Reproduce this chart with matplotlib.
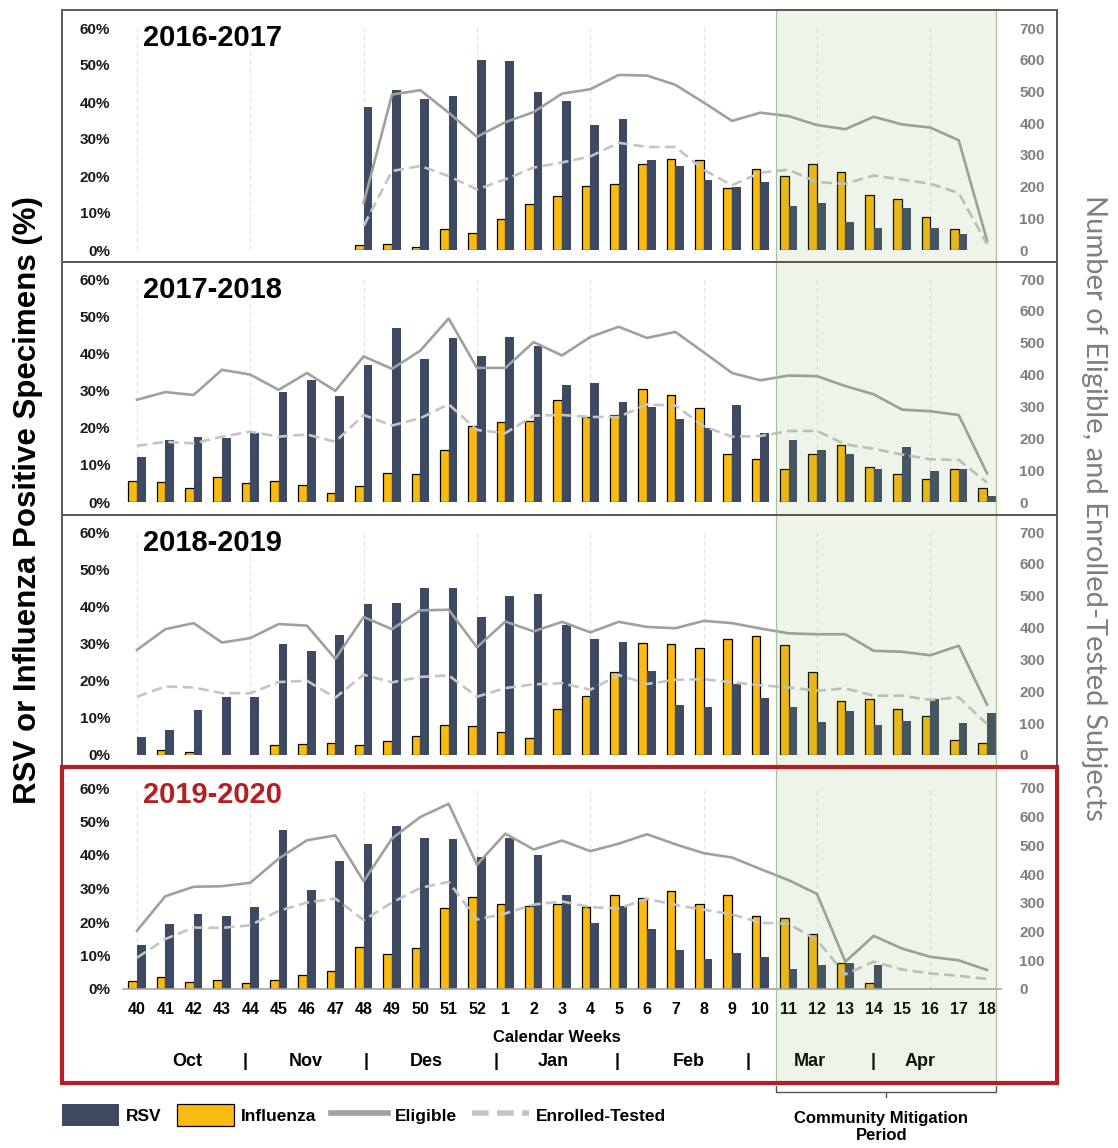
import numpy as np
import matplotlib as mpl
mpl.use('Agg')
import matplotlib.pyplot as plt
from matplotlib.patches import Rectangle, Patch
from matplotlib.lines import Line2D
from matplotlib.transforms import blended_transform_factory

plt.rcParams['font.family'] = ['Liberation Sans', 'DejaVu Sans']

nan = np.nan

# calendar weeks of a season, week 40 through week 18
weeks = list(range(40, 53)) + list(range(1, 19))
months = ['Oct', 'Nov', 'Des', 'Jan', 'Feb', 'Mar', 'Apr']
month_centers = [1.76, 5.97, 10.2, 14.68, 19.48, 23.76, 27.64]
month_breaks = [3.81, 8.08, 12.67, 16.94, 21.57, 25.98]
mitigation = (22.55, 30.3)

seasons = ['2016-2017', '2017-2018', '2018-2019', '2019-2020']

# % positive specimens
flu_1617 = [nan] * 8 + [1.3, 1.6, 0.9, 5.6, 4.5, 8.5, 12.5, 14.6, 17.2, 17.8, 23.2, 24.6,
                        24.2, 16.7, 22.0, 20.0, 23.2, 21.0, 15.0, 13.9, 8.8, 5.8, nan]
rsv_1617 = [nan] * 8 + [38.6, 43.3, 40.9, 41.6, 51.3, 51.1, 42.6, 40.4, 33.7, 35.3, 24.3, 22.6,
                        18.8, 17.0, 18.4, 12.0, 12.8, 7.7, 6.0, 11.4, 6.0, 4.4, nan]
flu_1718 = [5.6, 5.3, 3.9, 6.8, 5.0, 5.6, 4.5, 2.4, 4.2, 7.8, 7.5, 13.9, 20.5, 21.4, 21.8, 27.4,
            23.0, 23.5, 30.3, 28.8, 25.3, 12.8, 11.7, 9.0, 12.8, 15.3, 9.4, 7.6, 6.1, 9.0, 3.8]
rsv_1718 = [12.2, 16.8, 17.6, 17.3, 18.6, 29.5, 32.7, 28.6, 36.9, 46.8, 38.4, 44.1, 39.2, 44.5,
            41.9, 31.4, 32.0, 27.0, 25.5, 22.2, 19.8, 26.2, 18.6, 16.8, 14.1, 12.8, 8.8, 14.8,
            8.3, 8.8, 1.6]
flu_1819 = [nan, 1.3, 0.8, nan, nan, 2.6, 3.0, 3.3, 2.6, 3.7, 5.2, 8.0, 7.7, 6.2, 4.5, 12.3,
            16.0, 22.4, 30.2, 29.8, 28.7, 31.2, 32.0, 29.5, 22.4, 14.5, 15.2, 12.4, 10.6, 4.1, 3.1]
rsv_1819 = [4.8, 6.6, 12.0, 15.5, 15.6, 29.8, 27.9, 32.3, 40.6, 40.9, 45.0, 45.0, 37.0, 42.9,
            43.3, 35.0, 31.2, 30.5, 22.6, 13.5, 12.8, 19.1, 15.3, 12.8, 9.0, 11.9, 8.1, 9.2,
            15.2, 8.5, 11.3]
flu_1920 = [2.3, 3.5, 2.2, 2.7, 1.9, 2.6, 4.2, 5.4, 12.5, 10.5, 12.1, 24.3, 27.5, 25.5, 24.7,
            25.5, 24.6, 28.2, 27.1, 29.3, 25.5, 28.2, 21.8, 21.1, 16.3, 7.7, 1.8, nan, nan, nan, nan]
rsv_1920 = [13.1, 19.5, 22.5, 21.8, 24.4, 47.4, 29.5, 38.1, 43.4, 48.6, 45.1, 44.7, 39.4, 45.1,
            40.1, 28.0, 19.8, 24.7, 18.0, 11.5, 9.1, 10.6, 9.5, 5.9, 7.1, 7.9, 7.3, nan, nan, nan, nan]

# number of subjects
elig_1617 = [nan] * 8 + [148, 490, 504, 433, 357, 403, 435, 493, 507, 552, 550, 521, 465, 407,
                         433, 422, 394, 381, 420, 396, 386, 346, 30]
enr_1617 = [nan] * 8 + [76, 249, 265, 233, 191, 223, 260, 276, 295, 338, 325, 325, 253, 204,
                        244, 253, 214, 209, 235, 222, 209, 180, 19]
elig_1718 = [321, 345, 336, 415, 400, 352, 405, 349, 457, 418, 475, 576, 421, 421, 502, 460, 518,
             550, 515, 534, 470, 405, 382, 397, 395, 364, 338, 290, 285, 273, 90]
enr_1718 = [176, 189, 184, 205, 221, 205, 212, 189, 273, 240, 263, 307, 226, 216, 271, 273, 267,
            267, 306, 303, 238, 205, 207, 223, 223, 181, 167, 149, 134, 132, 61]
elig_1819 = [330, 395, 414, 353, 367, 411, 406, 302, 433, 395, 454, 456, 338, 419, 388, 418, 385,
             418, 402, 398, 421, 414, 397, 382, 379, 379, 327, 324, 313, 343, 158]
enr_1819 = [183, 215, 212, 194, 194, 229, 233, 180, 252, 228, 245, 250, 183, 210, 222, 225, 205,
            251, 223, 236, 238, 228, 219, 212, 202, 209, 186, 186, 173, 181, 97]
elig_1920 = [203, 323, 356, 358, 370, 454, 518, 535, 375, 524, 599, 645, 433, 541, 486, 517, 480,
             506, 539, 504, 473, 458, 418, 379, 331, 95, 185, 141, 112, 100, 66]
enr_1920 = [109, 174, 214, 213, 222, 272, 301, 315, 240, 301, 352, 373, 242, 263, 294, 305, 285,
            281, 314, 293, 276, 260, 231, 227, 170, 51, 95, 68, 54, 46, 35]

flu = [flu_1617, flu_1718, flu_1819, flu_1920]
rsv = [rsv_1617, rsv_1718, rsv_1819, rsv_1920]
eligible = [elig_1617, elig_1718, elig_1819, elig_1920]
enrolled = [enr_1617, enr_1718, enr_1819, enr_1920]

NAVY = '#3E4A62'
GOLD = '#FBBA12'
ELIG = '#A0A0A0'
ENR = '#C4C4C4'
RED = '#B41F24'

W, H = 1118, 1148
def fx(px):
    return px / W
def fy(py):
    return 1 - py / H

fig = plt.figure(figsize=(W / 100, H / 100), dpi=100)

# plot rows (top, bottom) and panel frames (top, bottom) in pixels
rows = [(28, 250), (279, 502), (532, 755), (788, 989)]
frames = [(10, 262), (262, 515), (515, 767), (767, 1083)]
x_left, x_right = 122.8, 1001.2
x = np.arange(len(weeks))
bw = 0.31

axes = []
for i, season in enumerate(seasons):
    top, bot = rows[i]
    ax = fig.add_axes([fx(x_left), fy(bot), (x_right - x_left) / W, (bot - top) / H])
    ax.set_facecolor('none')
    ax.set_xlim(-0.5, 30.5)
    ax.set_ylim(0, 60)
    for s in ax.spines.values():
        s.set_visible(False)
    for g in x[::4]:
        ax.axvline(g, color='#E2E2E2', lw=0.8, ls=(0, (4, 3)), zorder=0)

    f = np.array(flu[i], dtype=float)
    r = np.array(rsv[i], dtype=float)
    mf, mr = ~np.isnan(f), ~np.isnan(r)
    ax.bar(x[mf] - bw, f[mf], width=bw, align='edge', color=GOLD, edgecolor='black',
           linewidth=0.9, zorder=2)
    ax.bar(x[mr], r[mr], width=bw, align='edge', color=NAVY, linewidth=0, zorder=2)

    ax.set_yticks(range(0, 61, 10))
    ax.set_yticklabels([f'{v}%' for v in range(0, 61, 10)])
    ax.tick_params(axis='y', length=0, pad=9, labelsize=11, labelcolor='#1A1A1A')
    for t in ax.get_yticklabels():
        t.set_fontweight('bold')

    if i < 3:
        ax.tick_params(axis='x', bottom=False, labelbottom=False)
    else:
        ax.spines['bottom'].set_visible(True)
        ax.spines['bottom'].set_color('#A6A6A6')
        ax.spines['bottom'].set_linewidth(1.2)
        ax.set_xticks(x)
        ax.set_xticklabels([str(w) for w in weeks])
        ax.tick_params(axis='x', length=0, pad=9, labelsize=11.5)
        for t in ax.get_xticklabels():
            t.set_fontweight('bold')

    ax2 = ax.twinx()
    ax2.set_facecolor('none')
    ax2.set_ylim(0, 700)
    for s in ax2.spines.values():
        s.set_visible(False)
    ax2.plot(x, eligible[i], color=ELIG, lw=1.9, solid_joinstyle='round')
    ax2.plot(x, enrolled[i], color=ENR, lw=1.9, dashes=(4, 2))
    ax2.set_yticks(range(0, 701, 100))
    ax2.tick_params(axis='y', length=0, pad=13, labelsize=11, labelcolor='#7F7F7F')
    for t in ax2.get_yticklabels():
        t.set_fontweight('bold')

    fig.text(fx(143), fy(frames[i][0] + 28), season, fontsize=21, fontweight='bold',
             va='center', ha='left', color=RED if i == 3 else 'black')
    axes.append(ax)

ax4 = axes[-1]
tr = ax4.get_xaxis_transform()
span = rows[3][1] - rows[3][0]
ax4.text(14.82, (rows[3][1] - 1038) / span, 'Calendar Weeks', transform=tr,
         ha='center', va='center', fontsize=12, fontweight='bold')
for m, c in zip(months, month_centers):
    ax4.text(c, (rows[3][1] - 1062) / span, m, transform=tr, ha='center', va='center',
             fontsize=13, fontweight='bold')
for b in month_breaks:
    ax4.text(b, (rows[3][1] - 1062) / span, '|', transform=tr, ha='center', va='center',
             fontsize=13, fontweight='bold')

# panel frames
for i, (t, b) in enumerate(frames):
    red = i == 3
    fig.add_artist(Rectangle((fx(62), fy(b)), fx(1057) - fx(62), (b - t) / H,
                             transform=fig.transFigure, fill=False,
                             edgecolor=RED if red else '#595959',
                             lw=3 if red else 1.4, zorder=12 if red else 11))

# community mitigation period shading across all panels
bt = blended_transform_factory(ax4.transData, fig.transFigure)
m0, m1 = mitigation
fig.add_artist(Rectangle((m0, fy(1083)), m1 - m0, (1083 - 10) / H, transform=bt,
                         facecolor='#7CAA5D', alpha=0.13, edgecolor='none', zorder=10))
for mx in mitigation:
    fig.add_artist(Line2D([mx, mx], [fy(1083), fy(10)], transform=bt, color='#A9C29E',
                          lw=0.9, zorder=10))

# bracket under the shaded period
mid = (m0 + m1) / 2
fig.add_artist(Line2D([m0, m0, m1, m1], [fy(1086), fy(1092), fy(1092), fy(1086)],
                      transform=bt, color='#555555', lw=1))
fig.add_artist(Line2D([mid, mid], [fy(1092), fy(1097)], transform=bt, color='#555555', lw=1))
fig.text(mid - 0.15, fy(1127), 'Community Mitigation\nPeriod', transform=bt, ha='center',
         va='center', fontsize=12, fontweight='bold', linespacing=1.1)

# axis titles
fig.text(fx(28), fy(500), 'RSV or Influenza Positive Specimens (%)', rotation=90,
         ha='center', va='center', fontsize=22.5, fontweight='bold')
fig.text(fx(1094), fy(508), 'Number of Eligible, and Enrolled-Tested Subjects', rotation=270,
         ha='center', va='center', fontsize=21, color='#7F7F7F', family=['Lato', 'DejaVu Sans'])

handles = [Patch(facecolor=NAVY, edgecolor='none'),
           Patch(facecolor=GOLD, edgecolor='black', linewidth=0.9),
           Line2D([], [], color=ELIG, lw=4),
           Line2D([], [], color=ENR, lw=4, dashes=(3, 1.5))]
fig.legend(handles, ['RSV', 'Influenza', 'Eligible', 'Enrolled-Tested'],
           loc='center left', bbox_to_anchor=(fx(62), fy(1115)), ncol=4, frameon=False,
           borderpad=0, borderaxespad=0, handlelength=3.3, handleheight=1.5,
           handletextpad=0.4, columnspacing=0.85, prop=dict(weight='bold', size=12.5))

fig.savefig('out.png', dpi=100)
